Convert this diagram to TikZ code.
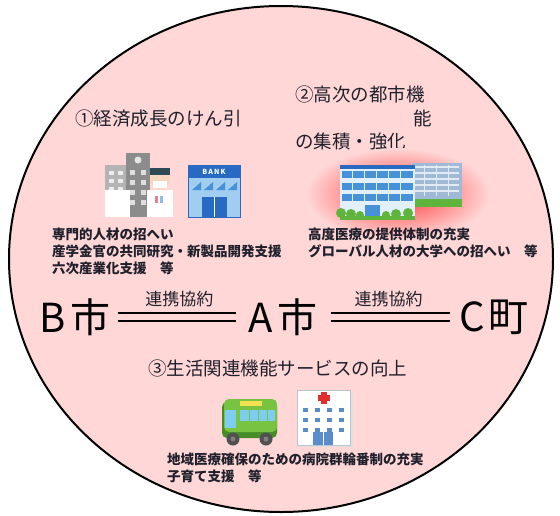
\documentclass[tikz,border=0pt]{standalone}
\usepackage{fontspec}
\setmainfont{Noto Sans CJK JP}
\begin{document}
\definecolor{bgpink}{RGB}{255,215,215}
\definecolor{inkdark}{RGB}{32,32,44}
\definecolor{towergray}{RGB}{140,140,140}
\definecolor{lightgray}{RGB}{180,180,180}
\definecolor{hair}{RGB}{46,75,85}
\definecolor{skin}{RGB}{246,214,188}
\definecolor{bankdark}{RGB}{40,105,195}
\definecolor{banklight}{RGB}{160,205,240}
\definecolor{glassblue}{RGB}{70,145,215}
\definecolor{paleblue}{RGB}{225,240,250}
\definecolor{backblue}{RGB}{160,185,215}
\definecolor{leaf}{RGB}{95,180,60}
\definecolor{busgreen}{RGB}{120,195,65}
\definecolor{busdark}{RGB}{70,140,40}
\definecolor{buswin}{RGB}{125,205,240}
\definecolor{signyellow}{RGB}{245,225,80}
\definecolor{wheel}{RGB}{80,80,80}
\definecolor{hospline}{RGB}{185,195,210}
\definecolor{hospwin}{RGB}{90,140,205}
\definecolor{crossred}{RGB}{225,45,45}
\begin{tikzpicture}[x=1pt,y=-1pt,
  heading/.style={font=\fontsize{18.5}{23.5}\selectfont, text=inkdark, inner sep=0pt},
  note/.style={font=\fontsize{13.5}{17}\selectfont\bfseries, text=inkdark, align=left, inner sep=0pt},
  city/.style={font=\fontsize{40}{40}\selectfont, text=black, inner sep=0pt},
  pact/.style={font=\fontsize{17}{17}\selectfont, text=inkdark, inner sep=0pt},
  pactline/.style={draw=black, line width=2pt, double=bgpink, double distance=6pt}]
\useasboundingbox (0,0) rectangle (560,515);

% region disc
\draw[fill=bgpink, line width=2pt] (281,259) ellipse [x radius=272pt, y radius=253pt];

% ---------- (1) economic growth ----------
\node[heading, anchor=west] (h1) at (75,119) {①経済成長のけん引};

% office tower with doctor
\fill[lightgray] (105,165) rectangle (128,195);
\foreach \yy in {171,179,187} {\fill[white!85!gray] (109,\yy) rectangle (114,\yy+4); \fill[white!85!gray] (118,\yy) rectangle (123,\yy+4);}
\fill[towergray] (126,153) rectangle (150,217);
\fill[white!80!gray] (138,160) circle (3.5pt);
\foreach \yy in {170,180,190,200} {\fill[white!75!gray] (130,\yy) rectangle (135,\yy+5); \fill[white!75!gray] (141,\yy) rectangle (146,\yy+5);}
\fill[white] (105,190) rectangle (130,217);
\fill[white] (147,190) rectangle (173,217);
\fill[skin] (160,179) circle (10pt);
\fill[hair] (150,168) rectangle (170,175);
\fill[white] (153,181) rectangle (167,188);
\fill[crossred!60!white] (155,196) rectangle (158,203);
\fill[glassblue!60!white] (160,196) rectangle (163,203);

% bank
\fill[banklight] (188,165) rectangle (240,217);
\fill[bankdark] (188,165) rectangle (240,178);
\node[font=\fontsize{7}{7}\selectfont\bfseries, text=white, inner sep=0pt] (banklabel) at (214,171.5) {B\,A\,N\,K};
\foreach \xx in {192,204,216,228} {\fill[glassblue] (\xx,190) -- (\xx+9,190) -- (\xx+9,182) -- cycle;}
\fill[bankdark] (202,197) rectangle (227,217);
\draw[white, line width=0.8pt] (214.5,197) -- (214.5,217);
\draw[bankdark, line width=1pt] (188,165) rectangle (240,217);

\node[note, anchor=north west] (n1) at (52,228)
  {専門的人材の招へい\\産学金官の共同研究・新製品開発支援\\六次産業化支援　等};

% ---------- (2) higher urban functions ----------
\node[heading, anchor=north west, align=left] (h2) at (295,86)
  {②高次の都市機\\\makebox[137pt][r]{能}\\の集積・強化};

% glow behind the building
\shade[inner color=red!75!bgpink, outer color=bgpink] (398,194) ellipse [x radius=92pt, y radius=46pt];
% back wing
\fill[backblue] (412,163) rectangle (462,207);
\foreach \yy in {167,173,179,185,191} {\draw[white!70!backblue, line width=1.2pt] (415,\yy) -- (459,\yy);}
\foreach \xx in {424,436,448} {\draw[white!70!backblue, line width=0.8pt] (\xx,165) -- (\xx,196);}
\fill[leaf] (412,199) rectangle (462,207);
% front block
\fill[paleblue] (340,165) rectangle (415,220);
\fill[bankdark] (340,165) rectangle (415,169);
\foreach \yy in {171,183,194} {\fill[glassblue] (342,\yy) rectangle (413,\yy+7);}
\foreach \yy in {171,183,194} {\foreach \xx in {352,364,376,388,400} {\draw[paleblue, line width=0.8pt] (\xx,\yy) -- (\xx,\yy+7);}}
\fill[glassblue] (365,205) rectangle (380,220);
\fill[leaf] (341,213) circle (5pt); \fill[leaf] (351,214) circle (5pt); \fill[leaf] (360,215) circle (4pt);
\fill[leaf] (386,215) circle (4pt); \fill[leaf] (396,214) circle (5pt); \fill[leaf] (408,213) circle (5pt);
\fill[leaf] (340,216) rectangle (415,220);

\node[note, anchor=north west] (n2) at (308,228)
  {高度医療の提供体制の充実\\グローバル人材の大学への招へい　等};

% ---------- partner municipalities ----------
\node[city] (b) at (75,317) {B\kern5pt 市};
\node[city] (a) at (283,317) {A\kern5pt 市};
\node[city] (c) at (494,317) {C\kern3pt 町};
\draw[pactline, shorten <=7pt, shorten >=12pt] (b.east) -- node[pact, midway, above=9.5pt] (p1) {連携協約} (a.west);
\draw[pactline, shorten <=13pt, shorten >=10pt] (a.east) -- node[pact, midway, above=9.5pt] (p2) {連携協約} (c.west);

% ---------- (3) daily-life services ----------
\node[heading, anchor=west] (h3) at (148,368) {③生活関連機能サービスの向上};

% bus
\fill[busdark] (222,402) [rounded corners=5pt] rectangle (277,438);
\fill[busgreen] (224,399) [rounded corners=5pt] rectangle (277,432);
\fill[signyellow] (240,401) rectangle (262,406);
\fill[buswin] (225,410) rectangle (236,428);
\fill[buswin] (240,410) rectangle (275,421);
\foreach \xx in {249,258,267} {\draw[busgreen, line width=1pt] (\xx,410) -- (\xx,421);}
\fill[wheel] (233,439) circle (6.5pt); \fill[gray] (233,439) circle (2.5pt);
\fill[wheel] (266,439) circle (6.5pt); \fill[gray] (266,439) circle (2.5pt);

% hospital
\fill[black!12] (300,393) rectangle (353,447);
\fill[white] (297,390) rectangle (350,445);
\draw[hospline, line width=1pt] (297,390) rectangle (350,445);
\fill[crossred] (320.5,392) rectangle (326.5,404);
\fill[crossred] (317.5,395) rectangle (329.5,401);
\foreach \yy in {408,418,428} {\foreach \xx in {303,315,327,339} {\fill[hospwin] (\xx,\yy) rectangle (\xx+5,\yy+4);}}
\fill[hospwin] (313,432) rectangle (333,445);
\draw[white, line width=0.8pt] (323,432) -- (323,445);

\node[note, anchor=north west] (n3) at (167,453)
  {地域医療確保のための病院群輪番制の充実\\子育て支援　等};
\end{tikzpicture}
\end{document}
